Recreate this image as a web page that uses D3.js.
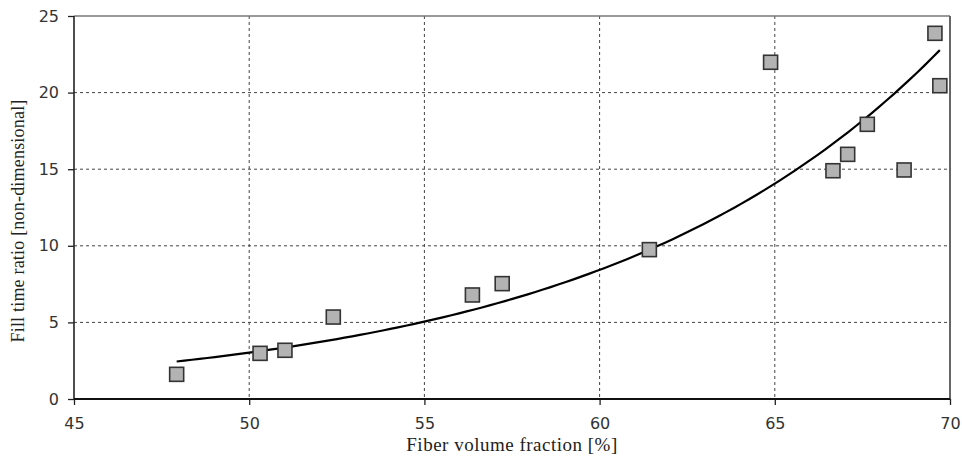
<!DOCTYPE html>
<html>
<head>
<meta charset="utf-8">
<script src="https://cdn.jsdelivr.net/npm/d3@7/dist/d3.min.js"></script>
<style>
  html, body { margin: 0; padding: 0; background: #fff; }
  svg { display: block; }
</style>
</head>
<body>
<svg id="chart" width="962" height="459"></svg>
<script>
// Measured samples: fiber volume fraction [%] vs. fill time ratio
const fiberFraction = [47.93, 50.31, 51.02, 52.40, 56.37, 57.22, 61.42, 64.88, 66.66, 67.08, 67.64, 68.69, 69.57, 69.71];
const fillRatio     = [1.61, 2.98, 3.18, 5.35, 6.79, 7.53, 9.75, 21.98, 14.90, 15.97, 17.93, 14.95, 23.87, 20.45];

const xTicks = [45, 50, 55, 60, 65, 70];
const yTicks = [0, 5, 10, 15, 20, 25];

const xTitle = "Fiber volume fraction [%]";
const yTitle = "Fill time ratio [non-dimensional]";

(function draw() {
  const svg = d3.select("#chart");
  const plotL = 74, plotR = 950, plotT = 16, plotB = 399;

  const x = d3.scaleLinear().domain([45, 70]).range([plotL, plotR]);
  const y = d3.scaleLinear().domain([0, 25]).range([plotB, plotT]);

  // Dashed grid lines at the inner ticks
  const grid = svg.append("g").attr("stroke", "#444").attr("stroke-width", 1)
    .attr("stroke-dasharray", "3,3");
  grid.selectAll("line.gx").data(xTicks.slice(1, -1)).join("line")
    .attr("class", "gx")
    .attr("x1", d => x(d)).attr("x2", d => x(d))
    .attr("y1", plotT).attr("y2", plotB);
  grid.selectAll("line.gy").data(yTicks.slice(1, -1)).join("line")
    .attr("class", "gy")
    .attr("x1", plotL).attr("x2", plotR)
    .attr("y1", d => y(d)).attr("y2", d => y(d));

  // Frame: light top/right, dark left/bottom
  svg.append("line").attr("x1", plotL).attr("x2", plotR).attr("y1", plotT).attr("y2", plotT)
    .attr("stroke", "#777").attr("stroke-width", 1.5);
  svg.append("line").attr("x1", plotR).attr("x2", plotR).attr("y1", plotT).attr("y2", plotB)
    .attr("stroke", "#666").attr("stroke-width", 2);

  // Axes
  const xAxis = d3.axisBottom(x).tickValues(xTicks).tickSize(6).tickPadding(13).tickFormat(d3.format("d"));
  const yAxis = d3.axisLeft(y).tickValues(yTicks).tickSize(6).tickPadding(9).tickFormat(d3.format("d"));

  const gx = svg.append("g").attr("transform", `translate(0,${plotB})`).call(xAxis);
  const gy = svg.append("g").attr("transform", `translate(${plotL},0)`).call(yAxis);

  [gx, gy].forEach(g => {
    g.select(".domain").remove();
    g.selectAll(".tick line").attr("stroke", "#222").attr("stroke-width", 1.3);
    g.selectAll(".tick text")
      .attr("fill", "#333")
      .style("font-family", "'DejaVu Sans', sans-serif")
      .style("font-size", "16px");
  });

  svg.append("line").attr("x1", plotL).attr("x2", plotL).attr("y1", plotT).attr("y2", plotB)
    .attr("stroke", "#222").attr("stroke-width", 1.6);
  svg.append("line").attr("x1", plotL).attr("x2", plotR).attr("y1", plotB).attr("y2", plotB)
    .attr("stroke", "#111").attr("stroke-width", 2.2);

  // Exponential trend line y = a·e^(b·x), least squares on ln(y)
  const n = fiberFraction.length;
  const lny = fillRatio.map(v => Math.log(v));
  const mx = d3.mean(fiberFraction), my = d3.mean(lny);
  let sxy = 0, sxx = 0;
  for (let i = 0; i < n; i++) {
    sxy += (fiberFraction[i] - mx) * (lny[i] - my);
    sxx += (fiberFraction[i] - mx) ** 2;
  }
  const b = sxy / sxx;
  const lnA = my - b * mx;
  const [x0, x1] = d3.extent(fiberFraction);
  const trend = d3.range(0, 101).map(i => {
    const xv = x0 + (x1 - x0) * i / 100;
    return [xv, Math.exp(lnA + b * xv)];
  });
  svg.append("path")
    .attr("d", d3.line().x(d => x(d[0])).y(d => y(d[1]))(trend))
    .attr("fill", "none").attr("stroke", "#000").attr("stroke-width", 2.2);

  // Square markers
  const s = 14;
  svg.append("g").selectAll("rect").data(d3.zip(fiberFraction, fillRatio)).join("rect")
    .attr("x", d => x(d[0]) - s / 2).attr("y", d => y(d[1]) - s / 2)
    .attr("width", s).attr("height", s)
    .attr("fill", "#b3b3b3").attr("stroke", "#333").attr("stroke-width", 1.6);

  // Axis titles
  svg.append("text").attr("x", (plotL + plotR) / 2).attr("y", 451)
    .attr("text-anchor", "middle")
    .style("font-family", "'Liberation Serif', 'Times New Roman', serif")
    .style("font-size", "19px").style("letter-spacing", "0.5px").attr("fill", "#222")
    .text(xTitle);

  svg.append("text")
    .attr("transform", "translate(24,221) rotate(-90)")
    .attr("text-anchor", "middle")
    .style("font-family", "'Liberation Serif', 'Times New Roman', serif")
    .style("font-size", "18px").style("letter-spacing", "0.2px").attr("fill", "#222")
    .text(yTitle);
})();
</script>
</body>
</html>
